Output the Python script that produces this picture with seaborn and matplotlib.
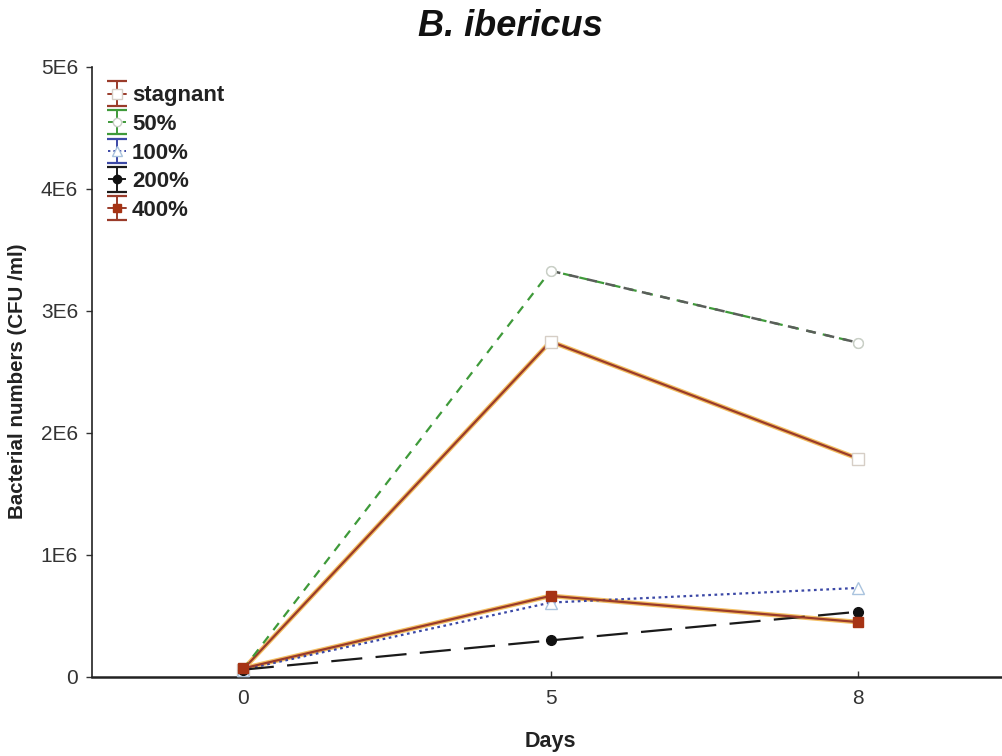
import numpy as np
import pandas as pd
import matplotlib
matplotlib.use("Agg")
import matplotlib.pyplot as plt
import seaborn as sns
from matplotlib.lines import Line2D
from matplotlib.collections import LineCollection
from matplotlib.container import ErrorbarContainer
from matplotlib.legend_handler import HandlerErrorbar
from matplotlib.ticker import FuncFormatter

# Sampling days (drawn as categories) and bacterial counts (CFU/ml)
days = ["0", "5", "8"]
stagnant = [0.06e6, 2.75e6, 1.79e6]
flow_50 = [0.06e6, 3.33e6, 2.74e6]
flow_100 = [0.06e6, 0.61e6, 0.73e6]
flow_200 = [0.06e6, 0.30e6, 0.535e6]
flow_400 = [0.07e6, 0.665e6, 0.45e6]

series_names = ["stagnant", "50%", "100%", "200%", "400%"]
series_values = [stagnant, flow_50, flow_100, flow_200, flow_400]
y_ticks = [0, 1e6, 2e6, 3e6, 4e6, 5e6]

sns.set_theme(style="white")
plt.rcParams["font.family"] = ["Liberation Sans", "DejaVu Sans"]

fig = plt.figure(figsize=(10.03, 7.56), dpi=100)
ax = fig.add_axes([92 / 1003, 1 - 677 / 756, 1 - 92 / 1003, (677 - 67) / 756])

styles = {
    "stagnant": dict(color="#9a3b2a", linestyle="-", marker="s", markersize=8,
                     markerfacecolor="white", markeredgecolor="#d6cec6", halo="#f3bf62"),
    "50%": dict(color="#3f9a3a", linestyle=(0, (4, 3.5)), marker="o", markersize=7,
                markerfacecolor="white", markeredgecolor="#c9cfc6", halo=None),
    "100%": dict(color="#3b48a6", linestyle=(0, (1.2, 1.6)), marker="^", markersize=8,
                 markerfacecolor="white", markeredgecolor="#a9c3de", halo=None),
    "200%": dict(color="#1a1a1a", linestyle=(0, (14, 6)), marker="o", markersize=7,
                 markerfacecolor="#111111", markeredgecolor="#111111", halo=None),
    "400%": dict(color="#9a3b2a", linestyle="-", marker="s", markersize=7,
                 markerfacecolor="#a63314", markeredgecolor="#a63314", halo="#f3bf62"),
}

frame = pd.DataFrame({
    "day": np.tile(days, len(series_names)),
    "count": np.concatenate(series_values),
    "series": np.repeat(series_names, len(days)),
})

for name in series_names:
    st = styles[name]
    sub = frame[frame["series"] == name]
    if st["halo"]:
        # soft orange rim under the solid brown curves
        sns.lineplot(data=sub, x="day", y="count", ax=ax, sort=False, errorbar=None,
                     color=st["halo"], linewidth=3.4, zorder=2)
    sns.lineplot(data=sub, x="day", y="count", ax=ax, sort=False, errorbar=None,
                 color=st["color"], linestyle=st["linestyle"], linewidth=1.6,
                 marker=st["marker"], markersize=st["markersize"],
                 markerfacecolor=st["markerfacecolor"],
                 markeredgecolor=st["markeredgecolor"], markeredgewidth=1.0,
                 clip_on=False, zorder=3)

# the later part of the 50% curve is rendered in a darker grey tone
late = frame[(frame["series"] == "50%") & (frame["day"].isin(days[1:]))]
sns.lineplot(data=late, x="day", y="count", ax=ax, sort=False, errorbar=None,
             color="#5a5e5a", linestyle=(0, (4, 3.5)), linewidth=1.8,
             marker="o", markersize=7, markerfacecolor="white",
             markeredgecolor="#c9cfc6", markeredgewidth=1.0, zorder=3)

ax.set_xlim(-0.49, 2.47)
ax.set_ylim(0, 5e6)
ax.set_yticks(y_ticks)
ax.yaxis.set_major_formatter(FuncFormatter(lambda v, p: "0" if v == 0 else f"{v / 1e6:.0f}E6"))
ax.set_xlabel("")
ax.set_ylabel("")

for side in ("top", "right"):
    ax.spines[side].set_visible(False)
ax.spines["left"].set_color("#222222")
ax.spines["left"].set_linewidth(1.2)
ax.spines["bottom"].set_color("#222222")
ax.spines["bottom"].set_linewidth(1.8)
ax.tick_params(axis="y", direction="out", length=4, width=1, left=True,
               labelsize=15, pad=6, colors="#333333")
ax.tick_params(axis="x", direction="in", length=4, width=1, bottom=True,
               labelsize=15, pad=9, colors="#333333")

# legend entries drawn as error-bar symbols
def eb_handle(st):
    data_line = Line2D([], [], color=st["color"], linestyle=st["linestyle"], linewidth=1.4,
                       marker=st["marker"], markersize=st["markersize"] - 1,
                       markerfacecolor=st["markerfacecolor"],
                       markeredgecolor=st["markeredgecolor"])
    cap = Line2D([], [], color=st["color"], marker="_", markersize=14,
                 markeredgewidth=1.6, markeredgecolor=st["color"])
    bar = LineCollection([], colors=[st["color"]], linewidths=1.4)
    return ErrorbarContainer((data_line, (cap, cap), (bar,)), has_xerr=False, has_yerr=True)

handles = [eb_handle(styles[n]) for n in series_names]
leg = ax.legend(handles, series_names, loc="upper left",
                bbox_to_anchor=(0.0055, 0.988), frameon=False, borderpad=0,
                handlelength=0.8, handletextpad=0.27, labelspacing=0.34,
                prop={"weight": "bold", "size": 16},
                handler_map={ErrorbarContainer: HandlerErrorbar(xerr_size=0.55)})
for t in leg.get_texts():
    t.set_color("#222222")

fig.text(510 / 1003, 1 - 27 / 756, "B. ibericus", ha="center", va="center",
         fontsize=26, fontweight="bold", fontstyle="italic", color="#111111")
fig.text(18 / 1003, 1 - 381 / 756, "Bacterial numbers (CFU /ml)", rotation=90,
         ha="center", va="center", fontsize=14.8, fontweight="bold", color="#222222")
fig.text(550 / 1003, 1 - 742 / 756, "Days", ha="center", va="center",
         fontsize=15.5, fontweight="bold", color="#222222")

fig.savefig("out.png", dpi=100, facecolor="white")
